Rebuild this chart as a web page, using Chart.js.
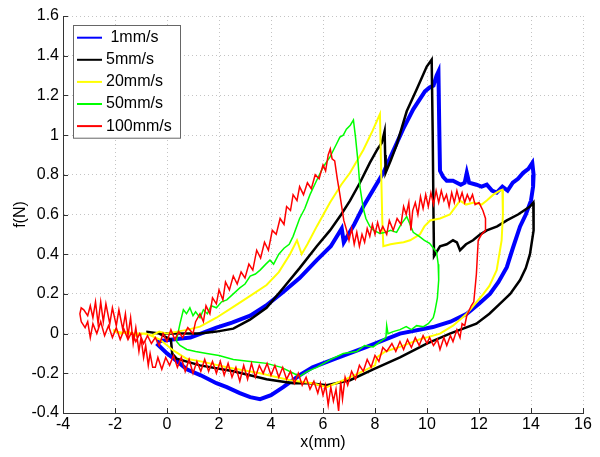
<!DOCTYPE html>
<html>
<head>
<meta charset="utf-8">
<script src="https://cdn.jsdelivr.net/npm/chart.js@4.4.0/dist/chart.umd.min.js"></script>
<style>
body { margin: 0; background: #fff; }
</style>
</head>
<body>
<canvas id="chart" width="600" height="457"></canvas>
<script>
// legend labels and colours, in legend order
var labels = [' 1mm/s', '5mm/s', '20mm/s', '50mm/s', '100mm/s'];
var colors = ['#0000ff', '#000000', '#ffff00', '#00ff00', '#ff0000'];

// x(mm), f(N) pairs
var speed1 = [[-0.4,-0.04],[0.2,-0.03],[0.9,-0.02],[1.3,0.0],[1.9,0.03],[2.5,0.055],[3.2,0.09],[3.8,0.14],[4.47,0.21],[5.1,0.28],[5.76,0.37],[6.3,0.44],[6.72,0.53],[6.8,0.46],[7.2,0.55],[7.55,0.64],[8.32,0.81],[9.08,1.03],[9.47,1.13],[9.92,1.22],[10.1,1.24],[10.25,1.25],[10.37,1.30],[10.44,1.32],[10.47,1.05],[10.5,0.82],[10.62,0.79],[10.76,0.77],[11.0,0.77],[11.3,0.75],[11.45,0.76],[11.53,0.81],[11.62,0.76],[11.9,0.75],[12.1,0.74],[12.3,0.75],[12.5,0.72],[12.68,0.71],[12.9,0.74],[13.1,0.72],[13.3,0.76],[13.5,0.78],[13.7,0.81],[13.9,0.83],[14.05,0.86],[14.1,0.80],[14.08,0.74],[14.0,0.67],[13.8,0.60],[13.58,0.54],[13.3,0.43],[13.07,0.335],[12.75,0.26],[12.42,0.20],[12.0,0.15],[11.53,0.10],[10.9,0.06],[10.23,0.033],[8.96,0.0],[7.68,-0.067],[6.4,-0.13],[5.6,-0.17],[5.1,-0.21],[4.47,-0.27],[4.0,-0.31],[3.58,-0.33],[3.2,-0.32],[2.8,-0.30],[2.3,-0.27],[1.9,-0.25],[1.3,-0.21],[0.76,-0.18],[0.3,-0.13],[0,-0.10],[-0.4,-0.05]];

var speed5 = [[-0.8,0.01],[-0.3,0.0],[0.2,0.0],[0.7,0.0],[1.27,0.0],[1.9,0.01],[2.55,0.025],[3.19,0.07],[3.83,0.13],[4.47,0.23],[5.1,0.33],[5.76,0.44],[6.27,0.52],[6.7,0.60],[7.04,0.67],[7.42,0.76],[7.8,0.86],[8.1,0.93],[8.26,0.96],[8.37,1.02],[8.39,0.9],[8.41,0.81],[8.6,0.87],[8.83,0.95],[9.22,1.12],[9.6,1.23],[9.99,1.345],[10.18,1.38],[10.22,1.0],[10.25,0.6],[10.27,0.39],[10.5,0.44],[10.76,0.45],[11.0,0.47],[11.15,0.46],[11.27,0.42],[11.5,0.45],[11.77,0.47],[12.05,0.50],[12.3,0.52],[12.7,0.54],[13.07,0.57],[13.5,0.60],[13.96,0.64],[14.09,0.66],[14.11,0.58],[14.09,0.52],[13.96,0.40],[13.8,0.33],[13.58,0.27],[13.2,0.20],[12.8,0.15],[12.4,0.10],[11.9,0.05],[10.88,0.0],[9.99,-0.05],[8.96,-0.12],[7.93,-0.18],[7.04,-0.235],[6.14,-0.26],[5.5,-0.25],[4.85,-0.25],[3.83,-0.23],[2.55,-0.19],[1.27,-0.16],[0.37,-0.126],[0.2,-0.1],[0.15,-0.03],[-0.3,0.0],[-0.8,0.01]];

var speed20 = [[-2.07,0.02],[-1.8,0.0],[-1.5,0.01],[-1.2,-0.01],[-0.9,0.0],[-0.6,-0.01],[-0.3,0.01],[0.0,0.0],[0.4,0.01],[0.8,0.02],[1.27,0.035],[1.9,0.08],[2.55,0.135],[3.2,0.19],[3.83,0.245],[4.3,0.31],[4.73,0.40],[5.0,0.47],[5.18,0.40],[5.4,0.45],[5.76,0.54],[6.27,0.66],[6.7,0.75],[7.04,0.81],[7.55,0.925],[7.9,1.02],[8.19,1.106],[8.24,0.8],[8.28,0.57],[8.32,0.44],[8.6,0.45],[8.83,0.455],[9.1,0.46],[9.35,0.47],[9.6,0.49],[9.73,0.50],[9.9,0.54],[10.12,0.57],[10.5,0.58],[10.88,0.60],[11.1,0.64],[11.27,0.67],[11.5,0.65],[11.8,0.66],[12.1,0.65],[12.3,0.67],[12.55,0.70],[12.8,0.72],[12.9,0.725],[12.92,0.6],[12.87,0.47],[12.68,0.32],[12.4,0.24],[12.17,0.20],[11.53,0.10],[11.0,0.04],[10.5,0.0],[9.7,-0.03],[8.96,-0.067],[8.4,-0.09],[8.07,-0.12],[8.0,-0.16],[7.68,-0.18],[7.2,-0.21],[6.78,-0.235],[6.14,-0.27],[5.6,-0.25],[4.73,-0.235],[3.58,-0.20],[2.3,-0.17],[1.3,-0.14],[0.76,-0.127],[0.24,-0.085],[-0.27,-0.03],[-0.8,0.0],[-1.4,0.0],[-2.07,0.01]];

var speed50 = [[0.37,-0.03],[0.5,0.05],[0.63,0.12],[0.75,0.10],[0.88,0.13],[1.0,0.09],[1.1,0.11],[1.27,0.08],[1.4,0.12],[1.55,0.10],[1.7,0.14],[1.9,0.13],[2.1,0.16],[2.3,0.17],[2.55,0.20],[2.8,0.23],[3.0,0.25],[3.2,0.29],[3.4,0.30],[3.58,0.32],[3.8,0.35],[3.96,0.37],[4.1,0.35],[4.3,0.40],[4.5,0.43],[4.7,0.45],[4.85,0.49],[5.1,0.58],[5.3,0.63],[5.5,0.70],[5.75,0.77],[6.01,0.84],[6.27,0.89],[6.5,0.95],[6.65,0.99],[6.78,1.0],[6.9,1.03],[7.05,1.05],[7.17,1.076],[7.25,0.99],[7.35,0.86],[7.42,0.74],[7.55,0.63],[7.65,0.58],[7.8,0.54],[7.95,0.52],[8.19,0.505],[8.4,0.51],[8.6,0.52],[8.83,0.51],[9.0,0.55],[9.22,0.59],[9.35,0.55],[9.47,0.51],[9.7,0.49],[9.9,0.47],[10.1,0.455],[10.25,0.43],[10.37,0.41],[10.43,0.35],[10.45,0.27],[10.4,0.18],[10.3,0.11],[10.24,0.08],[10.05,0.05],[9.86,0.035],[9.6,0.04],[9.4,0.02],[9.2,0.035],[8.96,0.02],[8.7,0.01],[8.5,0.0],[8.45,0.04],[8.42,-0.02],[8.2,-0.04],[7.93,-0.067],[7.6,-0.06],[7.3,-0.09],[6.78,-0.10],[6.3,-0.13],[5.76,-0.17],[5.4,-0.19],[5.1,-0.215],[4.86,-0.20],[4.4,-0.17],[3.83,-0.15],[3.2,-0.14],[2.55,-0.13],[2.0,-0.11],[1.53,-0.10],[1.1,-0.09],[0.76,-0.08],[0.5,-0.06],[0.37,-0.04],[0.37,-0.03]];

var speed100 = [[-3.3,0.06],[-3.15,0.03],[-3.05,0.06],[-2.95,-0.02],[-2.85,0.05],[-2.7,0.0],[-2.55,0.06],[-2.4,-0.01],[-2.25,0.04],[-2.1,-0.02],[-1.95,0.03],[-1.8,-0.03],[-1.65,0.02],[-1.5,-0.03],[-1.35,0.01],[-1.2,-0.04],[-1.05,0.0],[-0.9,-0.05],[-0.75,-0.01],[-0.6,-0.05],[-0.45,-0.02],[-0.3,-0.06],[-0.15,0.0],[0.0,-0.04],[0.15,0.02],[0.3,-0.03],[0.45,0.01],[0.6,-0.02],[0.8,0.03],[1.0,0.0],[1.1,0.06],[1.27,0.10],[1.4,0.06],[1.5,0.14],[1.65,0.10],[1.75,0.18],[1.9,0.15],[2.0,0.22],[2.15,0.17],[2.25,0.26],[2.4,0.22],[2.55,0.29],[2.7,0.25],[2.85,0.31],[3.0,0.28],[3.15,0.35],[3.3,0.32],[3.45,0.42],[3.6,0.38],[3.75,0.46],[3.9,0.42],[4.05,0.52],[4.2,0.50],[4.35,0.58],[4.5,0.55],[4.6,0.64],[4.75,0.62],[4.85,0.70],[5.0,0.67],[5.1,0.74],[5.25,0.70],[5.4,0.76],[5.55,0.73],[5.7,0.80],[5.85,0.78],[6.0,0.85],[6.1,0.82],[6.2,0.90],[6.28,0.93],[6.35,0.88],[6.45,0.87],[6.55,0.78],[6.65,0.70],[6.72,0.64],[6.8,0.57],[6.91,0.52],[7.0,0.47],[7.1,0.53],[7.2,0.45],[7.3,0.51],[7.4,0.44],[7.5,0.50],[7.6,0.46],[7.7,0.53],[7.8,0.49],[7.9,0.55],[8.0,0.50],[8.1,0.56],[8.2,0.51],[8.3,0.54],[8.45,0.50],[8.55,0.57],[8.7,0.52],[8.85,0.58],[9.0,0.55],[9.1,0.64],[9.2,0.60],[9.3,0.66],[9.38,0.52],[9.45,0.62],[9.55,0.66],[9.65,0.60],[9.75,0.69],[9.85,0.63],[9.95,0.70],[10.05,0.64],[10.15,0.71],[10.25,0.65],[10.35,0.72],[10.45,0.66],[10.55,0.72],[10.65,0.67],[10.75,0.70],[10.85,0.64],[10.95,0.71],[11.05,0.66],[11.15,0.72],[11.25,0.67],[11.35,0.71],[11.45,0.66],[11.55,0.70],[11.65,0.67],[11.75,0.70],[11.85,0.65],[12.0,0.66],[12.15,0.62],[12.25,0.58],[12.25,0.52],[12.1,0.50],[11.97,0.47],[11.9,0.30],[11.8,0.16],[11.7,0.14],[11.53,0.09],[11.45,0.04],[11.35,0.05],[11.27,-0.02],[11.15,0.02],[11.0,-0.04],[10.9,-0.01],[10.76,-0.06],[10.65,-0.02],[10.5,-0.08],[10.4,-0.03],[10.25,-0.06],[10.1,-0.02],[10.0,-0.05],[9.85,-0.01],[9.7,-0.06],[9.55,-0.02],[9.4,-0.07],[9.25,-0.03],[9.1,-0.08],[8.96,-0.04],[8.8,-0.09],[8.65,-0.05],[8.45,-0.09],[8.3,-0.07],[8.15,-0.14],[8.0,-0.11],[7.85,-0.17],[7.7,-0.13],[7.55,-0.19],[7.4,-0.16],[7.25,-0.23],[7.1,-0.19],[6.95,-0.26],[6.85,-0.22],[6.75,-0.33],[6.68,-0.24],[6.6,-0.39],[6.5,-0.28],[6.4,-0.34],[6.3,-0.27],[6.2,-0.36],[6.1,-0.26],[6.0,-0.31],[5.9,-0.25],[5.8,-0.30],[5.65,-0.24],[5.5,-0.28],[5.35,-0.22],[5.2,-0.26],[5.05,-0.20],[4.9,-0.25],[4.75,-0.19],[4.6,-0.23],[4.45,-0.17],[4.3,-0.22],[4.15,-0.16],[4.0,-0.21],[3.85,-0.15],[3.7,-0.20],[3.55,-0.16],[3.4,-0.22],[3.25,-0.15],[3.1,-0.23],[2.95,-0.16],[2.8,-0.24],[2.65,-0.17],[2.5,-0.22],[2.35,-0.15],[2.2,-0.21],[2.05,-0.14],[1.9,-0.20],[1.75,-0.14],[1.6,-0.19],[1.45,-0.13],[1.3,-0.19],[1.15,-0.14],[1.0,-0.20],[0.85,-0.13],[0.7,-0.19],[0.55,-0.12],[0.4,-0.17],[0.25,-0.11],[0.1,-0.16],[-0.05,-0.12],[-0.2,-0.18],[-0.35,-0.12],[-0.45,-0.17],[-0.55,-0.17],[-0.65,-0.10],[-0.72,-0.16],[-0.82,-0.06],[-0.9,-0.12],[-1.0,-0.02],[-1.08,-0.09],[-1.2,0.03],[-1.3,-0.05],[-1.4,0.08],[-1.5,-0.01],[-1.6,0.10],[-1.7,0.02],[-1.85,0.12],[-1.95,0.04],[-2.1,0.13],[-2.2,0.05],[-2.35,0.15],[-2.45,0.06],[-2.55,0.16],[-2.65,0.05],[-2.75,0.16],[-2.85,0.08],[-2.95,0.14],[-3.05,0.09],[-3.2,0.12],[-3.3,0.13],[-3.35,0.1],[-3.3,0.06]];

var series = [speed1, speed5, speed20, speed50, speed100];
var widths = [4, 2.5, 2, 1.5, 1.5];

var FONT = '"Liberation Sans", Arial, Helvetica, sans-serif';

// MATLAB style ticks pointing into the axes
var innerTicks = {
    id: 'innerTicks',
    afterDraw: function(chart) {
        var ctx = chart.ctx, area = chart.chartArea, sx = chart.scales.x, sy = chart.scales.y;
        ctx.save();
        ctx.strokeStyle = '#333';
        ctx.lineWidth = 1;
        ctx.beginPath();
        sx.ticks.forEach(function(t) {
            var px = Math.round(sx.getPixelForValue(t.value)) + 0.5;
            ctx.moveTo(px, area.bottom);
            ctx.lineTo(px, area.bottom - 5);
        });
        sy.ticks.forEach(function(t) {
            var py = Math.round(sy.getPixelForValue(t.value)) + 0.5;
            ctx.moveTo(area.left, py);
            ctx.lineTo(area.left + 5, py);
        });
        ctx.stroke();
        ctx.restore();
    }
};

// boxed legend in the upper left corner of the axes
var boxLegend = {
    id: 'boxLegend',
    afterDraw: function(chart) {
        var ctx = chart.ctx;
        var left = chart.chartArea.left + 10, top = chart.chartArea.top + 9;
        var w = 107, rowH = 22.1, h = 112.7;
        ctx.save();
        ctx.fillStyle = '#fff';
        ctx.fillRect(left, top, w, h);
        ctx.strokeStyle = '#666';
        ctx.lineWidth = 1;
        ctx.strokeRect(Math.round(left) + 0.5, Math.round(top) + 0.5, w, h);
        ctx.font = '16px ' + FONT;
        ctx.textBaseline = 'middle';
        chart.data.datasets.forEach(function(ds, i) {
            var y = top + 12.7 + i * rowH;
            ctx.strokeStyle = ds.borderColor;
            ctx.lineWidth = 2;
            ctx.beginPath();
            ctx.moveTo(left + 4, y);
            ctx.lineTo(left + 29, y);
            ctx.stroke();
            ctx.fillStyle = '#000';
            ctx.fillText(ds.label, left + 33, y);
        });
        ctx.restore();
    }
};

var datasets = series.map(function(pts, i) {
    return {
        label: labels[i],
        data: pts.map(function(p) { return {x: p[0], y: p[1]}; }),
        borderColor: colors[i],
        backgroundColor: colors[i],
        borderWidth: widths[i],
        showLine: true,
        pointRadius: 0,
        tension: 0,
        order: series.length - i
    };
});

// dotted grid, solid left and bottom axis lines
var grid = {color: '#c4c4c4', drawTicks: false, lineWidth: 1};
var border = {display: true, color: '#333', width: 1, dash: [1, 3]};

var chart = new Chart(document.getElementById('chart'), {
    type: 'scatter',
    data: {datasets: datasets},
    options: {
        responsive: false,
        animation: false,
        devicePixelRatio: 1,
        layout: {padding: {top: 16, right: 17, left: 0, bottom: 0}},
        plugins: {legend: {display: false}, tooltip: {enabled: false}},
        scales: {
            x: {
                type: 'linear', min: -4, max: 16,
                grid: grid,
                border: border,
                ticks: {stepSize: 2, padding: 2, color: '#000', font: {family: FONT, size: 16}},
                title: {display: true, text: 'x(mm)', color: '#000', font: {family: FONT, size: 16}, padding: {top: 0, bottom: 5}},
                afterFit: function(s) { s.height = 44; }
            },
            y: {
                type: 'linear', min: -0.4, max: 1.6,
                grid: grid,
                border: border,
                ticks: {stepSize: 0.2, padding: 4, color: '#000', font: {family: FONT, size: 16},
                    callback: function(v) { return String(Math.round(v * 10) / 10); }},
                title: {display: true, text: 'f(N)', color: '#000', font: {family: FONT, size: 16}, padding: {top: 11, bottom: 0}},
                afterFit: function(s) { s.width = 63; }
            }
        }
    },
    plugins: [innerTicks, boxLegend]
});
</script>
</body>
</html>
